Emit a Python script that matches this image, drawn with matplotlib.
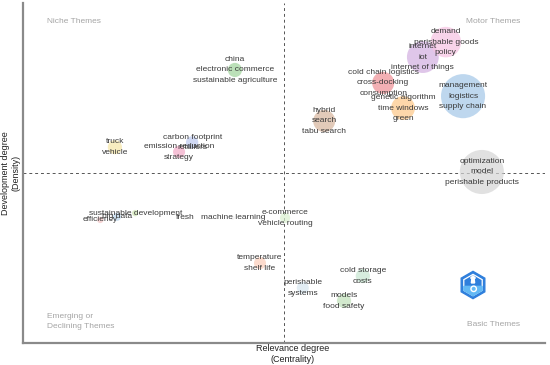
import matplotlib
matplotlib.use("Agg")
import matplotlib.pyplot as plt
from matplotlib.patches import RegularPolygon, Polygon, Circle

plt.rcParams["font.family"] = ["Liberation Sans", "DejaVu Sans"]

# Cluster data (centrality, density on a normalised scale)
centrality = [0.406, 0.176, 0.324, 0.299, 0.577, 0.690, 0.728, 0.766, 0.810, 0.843,
              0.879, 0.148, 0.180, 0.215, 0.310, 0.402, 0.502, 0.454, 0.536, 0.651, 0.615]
density = [0.803, 0.576, 0.590, 0.562, 0.653, 0.765, 0.691, 0.841, 0.885, 0.726,
           0.503, 0.362, 0.371, 0.382, 0.368, 0.368, 0.368, 0.235, 0.162, 0.197, 0.124]
freq = [50, 50, 38, 36, 120, 120, 140, 250, 230, 480,
        480, 10, 16, 10, 4, 4, 26, 36, 36, 50, 50]
labels = [
    ["china", "electronic commerce", "sustainable agriculture"],
    ["truck", "vehicle"],
    ["carbon footprint", "retailers"],
    ["emission reduction", "strategy"],
    ["hybrid", "search", "tabu search"],
    ["cold chain logistics", "cross-docking", "consumption"],
    ["genetic algorithm", "time windows", "green"],
    ["internet", "iot", "internet of things"],
    ["demand", "perishable goods", "policy"],
    ["management", "logistics", "supply chain"],
    ["optimization", "model", "perishable products"],
    ["efficiency"],
    ["big data"],
    ["sustainable development"],
    ["fresh"],
    ["machine learning"],
    ["e-commerce", "vehicle routing"],
    ["temperature", "shelf life"],
    ["perishable", "systems"],
    ["cold storage", "costs"],
    ["models", "food safety"],
]
colors = ["#9fd49a", "#f6e6a6", "#bccaf0", "#f3a9c6", "#d6b49c", "#ef8f95", "#fdc786",
          "#d2aee0", "#f6c2e2", "#a3c7e8", "#d5d5d5", "#f2c4c4", "#b8d3ea", "#cfe6b3",
          "#f0f0f0", "#f0f0f0", "#d9efcf", "#fbcdb8", "#d7e6f0", "#c6e6d0", "#bfe0b8"]

x_median = 0.5
y_median = 0.5

fig = plt.figure(figsize=(5.5, 3.65), dpi=100)
ax = fig.add_axes([23 / 550, 1 - 343 / 365, 522 / 550, 340 / 365])

ax.scatter(centrality, density, s=[f * 2.1 for f in freq], c=colors,
           alpha=0.7, edgecolors="none", zorder=2)

for cx, cy, lab in zip(centrality, density, labels):
    ax.text(cx, cy, "\n".join(lab), ha="center", va="center",
            multialignment="center", fontsize=6, color="#3a3a3a",
            linespacing=1.72, zorder=3)

ax.axvline(x_median, color="#555555", lw=0.7, ls=(0, (3, 3)), zorder=1)
ax.axhline(y_median, color="#555555", lw=0.7, ls=(0, (3, 3)), zorder=1)

ax.set_xlim(0, 1)
ax.set_ylim(0, 1)
ax.set_xticks([])
ax.set_yticks([])
for side in ["top", "right"]:
    ax.spines[side].set_visible(False)
for side in ["left", "bottom"]:
    ax.spines[side].set_color("#8a8a8a")
    ax.spines[side].set_linewidth(1.6)

# quadrant names
qc = "#a5a5a5"
ax.text(0.046, 0.947, "Niche Themes", fontsize=6, color=qc, ha="left", va="center", transform=ax.transAxes)
ax.text(0.952, 0.947, "Motor Themes", fontsize=6, color=qc, ha="right", va="center", transform=ax.transAxes)
ax.text(0.046, 0.064, "Emerging or\nDeclining Themes", fontsize=6, color=qc, ha="left",
        va="center", linespacing=1.65, transform=ax.transAxes)
ax.text(0.952, 0.055, "Basic Themes", fontsize=6, color=qc, ha="right", va="center", transform=ax.transAxes)

# axis titles
fig.text(293 / 550, 1 - 354 / 365, "Relevance degree\n(Centrality)", ha="center", va="center",
         fontsize=6.5, color="#222222", linespacing=1.2)
fig.text(11 / 550, 1 - 173 / 365, "Development degree\n(Density)", ha="center", va="center",
         rotation=90, fontsize=6.5, color="#222222", linespacing=1.2)

# small logo in its own square axes
lax = fig.add_axes([458 / 550, 1 - 301 / 365, 30 / 550, 32 / 365])
lax.set_xlim(-1.1, 1.1)
lax.set_ylim(-1.1, 1.1)
lax.set_aspect("equal")
lax.axis("off")
lax.add_patch(RegularPolygon((0, 0), 6, radius=1.0, orientation=0, color="#2f7fdc"))
lax.add_patch(RegularPolygon((0, 0), 6, radius=0.78, orientation=0, fill=False, ec="white", lw=0.9))
lax.add_patch(Polygon([[-0.67, -0.1], [0.67, -0.1], [0.67, -0.39], [0, -0.78], [-0.67, -0.39]],
                      color="#62b8f4"))
lax.add_patch(Polygon([[-0.12, 0.15], [0.12, 0.15], [0.08, 0.5], [-0.08, 0.5]], color="white"))
lax.add_patch(Polygon([[-0.18, 0.5], [0.18, 0.5], [0, 0.68]], color="white"))
lax.add_patch(Circle((0.05, -0.28), 0.2, fill=False, ec="white", lw=1.0))

fig.savefig("out.png", dpi=100)
